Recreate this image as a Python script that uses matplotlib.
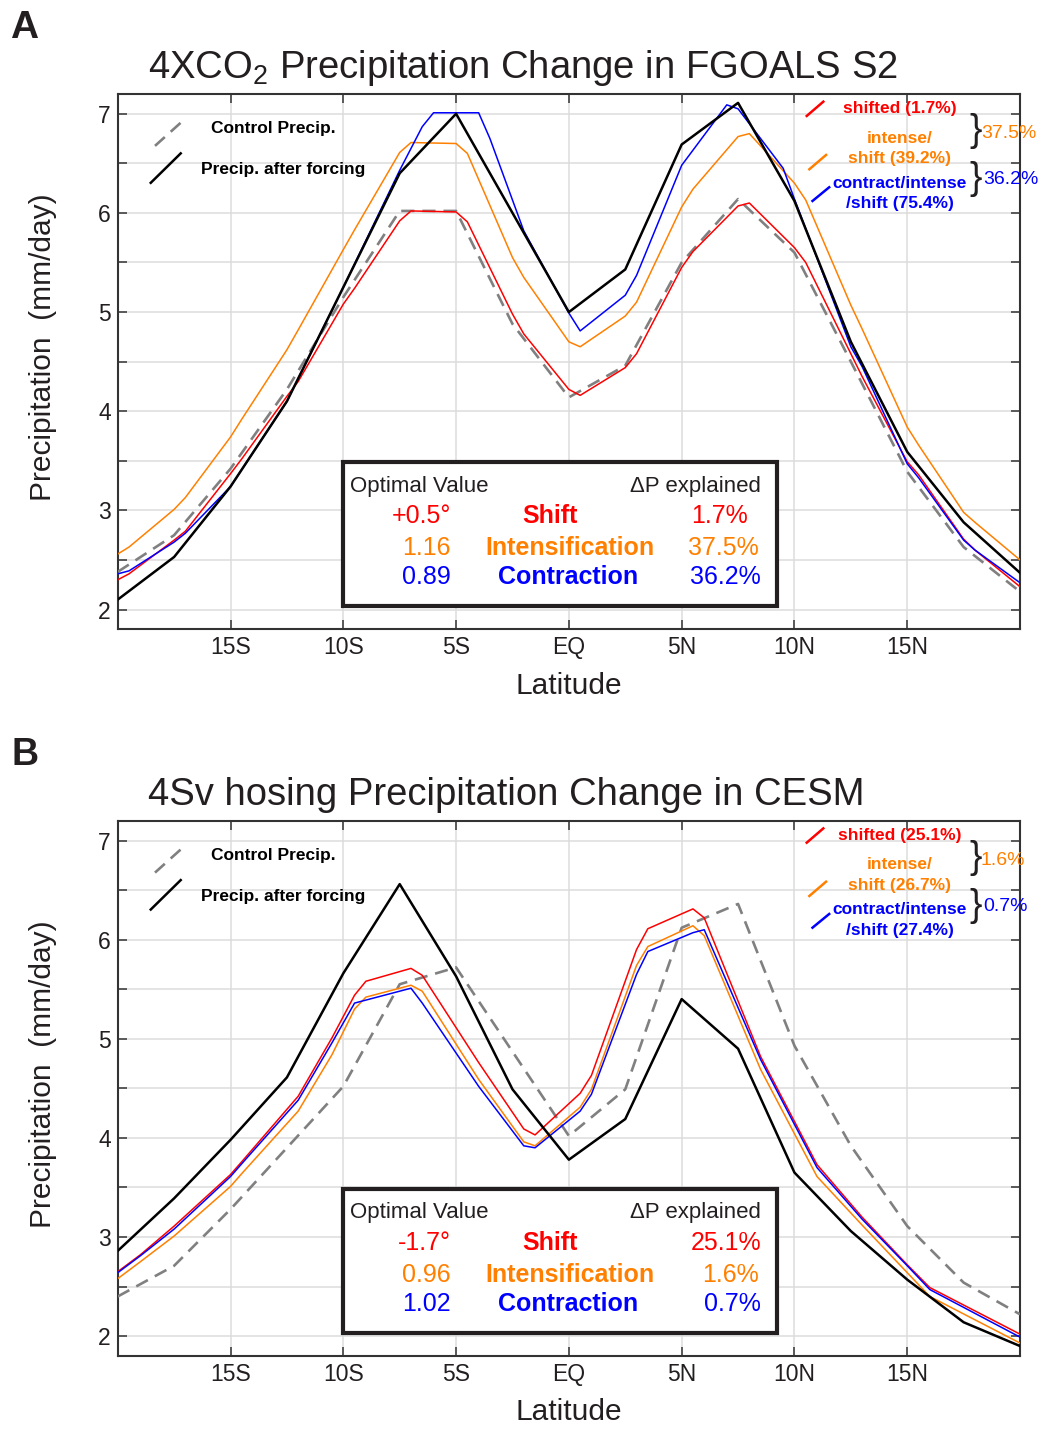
import matplotlib
matplotlib.use('Agg')
import matplotlib.pyplot as plt
from matplotlib.patches import Rectangle
from matplotlib.ticker import MultipleLocator, FixedLocator, FuncFormatter

plt.rcParams['font.family'] = ['Liberation Sans', 'DejaVu Sans']
plt.rcParams['mathtext.fontset'] = 'custom'
plt.rcParams['mathtext.rm'] = 'Liberation Sans'
plt.rcParams['mathtext.it'] = 'Liberation Sans:italic'

TXT = '#231F20'
RED = '#FF0000'
ORANGE = '#FF8000'
BLUE = '#0000FF'
GRAY = '#808080'

# === data ===
lat = [-20, -17.5, -15, -12.5, -10, -7.5, -5, -2.5, 0, 2.5, 5, 7.5, 10, 12.5, 15, 17.5, 20]

# panel A: 4xCO2, FGOALS S2
a_ctrl = [2.38, 2.75, 3.42, 4.22, 5.15, 6.02, 6.02, 4.88, 4.14, 4.46, 5.50, 6.14, 5.60, 4.50, 3.39, 2.63, 2.18]
a_forced = [2.10, 2.53, 3.24, 4.10, 5.25, 6.40, 7.00, 6.00, 5.00, 5.43, 6.69, 7.11, 6.12, 4.70, 3.59, 2.88, 2.37]
a_fine_lat = [-20, -19.5, -17.5, -17, -15, -14.5, -12.5, -12, -10, -9.5, -7.5, -7, -5, -4.5, -2.5, -2,
              0, 0.5, 2.5, 3, 5, 5.5, 7.5, 8, 10, 10.5, 12.5, 13, 15, 15.5, 17.5, 18, 20]
a_shift = [2.30, 2.36, 2.70, 2.79, 3.37, 3.52, 4.15, 4.30, 5.08, 5.24, 5.92, 6.02, 6.01, 5.91, 4.98, 4.78,
           4.22, 4.16, 4.44, 4.58, 5.45, 5.61, 6.07, 6.10, 5.65, 5.50, 4.58, 4.35, 3.49, 3.36, 2.71, 2.60, 2.23]
a_intens = [2.56, 2.63, 3.01, 3.13, 3.74, 3.92, 4.62, 4.82, 5.63, 5.83, 6.61, 6.71, 6.70, 6.60, 5.55, 5.35,
            4.70, 4.65, 4.96, 5.10, 6.06, 6.24, 6.77, 6.80, 6.30, 6.13, 5.07, 4.83, 3.84, 3.66, 2.98, 2.88, 2.50]
a_contr_lat = [-20, -19.5, -17.5, -17, -15, -12.5, -10, -7.5, -6.5, -6, -4, -3.5, -2, 0, 0.5, 2.5, 3, 5,
               7, 7.5, 9.5, 10, 12.5, 13, 15, 15.5, 17.5, 18, 20]
a_contr = [2.36, 2.39, 2.68, 2.77, 3.24, 4.10, 5.25, 6.43, 6.87, 7.01, 7.01, 6.75, 5.82, 4.99, 4.81, 5.17,
           5.37, 6.48, 7.09, 7.05, 6.45, 6.14, 4.65, 4.45, 3.47, 3.33, 2.70, 2.60, 2.27]

# panel B: 4Sv hosing, CESM
b_ctrl = [2.40, 2.71, 3.28, 3.90, 4.52, 5.55, 5.72, 4.87, 4.02, 4.49, 6.12, 6.36, 4.93, 3.92, 3.11, 2.54, 2.22]
b_forced = [2.86, 3.39, 3.98, 4.61, 5.66, 6.56, 5.63, 4.49, 3.78, 4.19, 5.40, 4.90, 3.65, 3.06, 2.57, 2.14, 1.90]
b_fine_lat = [-20, -19, -17.5, -15, -14.5, -12, -10.5, -9.5, -9, -7, -6.5, -4, -2, -1.5, 0.5, 1, 3, 3.5,
              5.5, 6, 8.5, 11, 13, 15, 16, 20]
b_shift = [2.65, 2.82, 3.11, 3.63, 3.76, 4.42, 5.01, 5.44, 5.58, 5.71, 5.64, 4.76, 4.09, 4.03, 4.45, 4.63,
           5.90, 6.11, 6.31, 6.22, 4.82, 3.73, 3.20, 2.72, 2.49, 2.02]
b_intens = [2.58, 2.75, 3.01, 3.51, 3.64, 4.27, 4.84, 5.30, 5.42, 5.54, 5.48, 4.59, 3.96, 3.92, 4.31, 4.49,
            5.74, 5.93, 6.14, 6.04, 4.69, 3.61, 3.12, 2.64, 2.40, 1.93]
b_contr = [2.64, 2.81, 3.08, 3.61, 3.74, 4.38, 4.96, 5.36, 5.39, 5.51, 5.36, 4.52, 3.92, 3.90, 4.27, 4.44,
           5.65, 5.88, 6.07, 6.10, 4.79, 3.70, 3.18, 2.71, 2.47, 1.99]

xtick_pos = [-15, -10, -5, 0, 5, 10, 15]
xtick_lab = ['15S', '10S', '5S', 'EQ', '5N', '10N', '15N']


def draw_panel(ax, title, ctrl, forced, fine_lat, shift, intens, contr_lat, contr,
               leg_pct, brace_pct, opt_vals, dp_vals, dp_x):
    ax.plot(lat, ctrl, color=GRAY, lw=1.9, dashes=(5, 3), zorder=3)
    ax.plot(fine_lat, shift, color=RED, lw=1.1, zorder=3)
    ax.plot(fine_lat, intens, color=ORANGE, lw=1.1, zorder=3)
    ax.plot(contr_lat, contr, color=BLUE, lw=1.1, zorder=3)
    ax.plot(lat, forced, color='black', lw=1.8, zorder=4)

    ax.set_xlim(-20, 20)
    ax.set_ylim(1.8, 7.2)
    ax.xaxis.set_major_locator(FixedLocator(xtick_pos))
    ax.set_xticklabels(xtick_lab)
    ax.yaxis.set_major_locator(MultipleLocator(0.5))
    ax.yaxis.set_major_formatter(FuncFormatter(lambda v, p: '%d' % round(v) if abs(v - round(v)) < 1e-6 else ''))
    ax.tick_params(direction='in', top=True, right=True, length=6.5, width=1.1,
                   labelsize=16.5, colors='#333333', labelcolor=TXT, pad=5)
    ax.grid(True, color='#DCDCDC', lw=1.1, zorder=0)
    for s in ax.spines.values():
        s.set_linewidth(1.5)
        s.set_color('#333333')
    ax.set_xlabel('Latitude', fontsize=21.5, color=TXT, labelpad=9)
    ax.set_ylabel('Precipitation  (mm/day)', fontsize=21.5, color=TXT)
    ax.yaxis.set_label_coords(-0.067, 0.527)

    tr = ax.transAxes
    ax.text(0.0336, 1.0293, title, transform=tr, fontsize=27.5, color=TXT, ha='left', va='baseline')

    # left legend
    ax.plot([0.0413, 0.0756], [0.903, 0.955], color=GRAY, lw=1.9, dashes=(5, 3), transform=tr, clip_on=False)
    ax.plot([0.0366, 0.0698], [0.834, 0.889], color='black', lw=1.8, transform=tr, clip_on=False)
    ax.text(0.103, 0.9266, 'Control Precip.', transform=tr, fontsize=12.5, fontweight='bold',
            color='black', ha='left', va='baseline')
    ax.text(0.0923, 0.8506, 'Precip. after forcing', transform=tr, fontsize=12.5, fontweight='bold',
            color='black', ha='left', va='baseline')

    # right legend
    ax.plot([0.7636, 0.7820], [0.9589, 0.9856], color=RED, lw=1.8, transform=tr, clip_on=False)
    ax.plot([0.7665, 0.7850], [0.8593, 0.8860], color=ORANGE, lw=1.8, transform=tr, clip_on=False)
    ax.plot([0.7700, 0.7885], [0.8001, 0.8257], color=BLUE, lw=1.8, transform=tr, clip_on=False)
    cx = 0.8665
    ax.text(cx, 0.964, 'shifted (%s)' % leg_pct[0], transform=tr, fontsize=12.5, fontweight='bold',
            color=RED, ha='center', va='baseline')
    ax.text(cx, 0.909, 'intense/', transform=tr, fontsize=12.5, fontweight='bold',
            color=ORANGE, ha='center', va='baseline')
    ax.text(cx, 0.8705, 'shift (%s)' % leg_pct[1], transform=tr, fontsize=12.5, fontweight='bold',
            color=ORANGE, ha='center', va='baseline')
    ax.text(cx, 0.825, 'contract/intense', transform=tr, fontsize=12.5, fontweight='bold',
            color=BLUE, ha='center', va='baseline')
    ax.text(cx, 0.7865, '/shift (%s)' % leg_pct[2], transform=tr, fontsize=12.5, fontweight='bold',
            color=BLUE, ha='center', va='baseline')
    ax.text(0.9505, 0.931, '}', transform=tr, fontsize=27, color=TXT, ha='center', va='center')
    ax.text(0.9505, 0.8408, '}', transform=tr, fontsize=27, color=TXT, ha='center', va='center')
    ax.text(0.9565, 0.9173, brace_pct[0], transform=tr, fontsize=14, color=ORANGE, ha='left', va='baseline')
    ax.text(0.9587, 0.8313, brace_pct[1], transform=tr, fontsize=14, color=BLUE, ha='left', va='baseline')

    # summary box
    ax.add_patch(Rectangle((0.2497, 0.0435), 0.481, 0.269, transform=tr, facecolor='white',
                           edgecolor=TXT, lw=3, zorder=6))
    ax.text(0.2577, 0.257, 'Optimal Value', transform=tr, fontsize=16, color=TXT,
            ha='left', va='baseline', zorder=7)
    ax.text(0.7126, 0.257, '\u0394P explained', transform=tr, fontsize=16, color=TXT,
            ha='right', va='baseline', zorder=7)
    rows_y = [0.198, 0.1388, 0.0841]
    colors = [RED, ORANGE, BLUE]
    names = ['Shift', 'Intensification', 'Contraction']
    name_x = [0.4791, 0.5007, 0.4991]
    for i in range(3):
        ax.text(0.369, rows_y[i], opt_vals[i], transform=tr, fontsize=18, color=colors[i],
                ha='right', va='baseline', zorder=7)
        ax.text(name_x[i], rows_y[i], names[i], transform=tr, fontsize=18, fontweight='bold',
                color=colors[i], ha='center', va='baseline', zorder=7)
        ax.text(dp_x[i], rows_y[i], dp_vals[i], transform=tr, fontsize=18, color=colors[i],
                ha='right', va='baseline', zorder=7)


fig = plt.figure(figsize=(10.4, 14.32), dpi=100)
ax_a = fig.add_axes([0.1132, 0.5605, 0.8676, 0.3739])
ax_b = fig.add_axes([0.1132, 0.0531, 0.8676, 0.3738])

draw_panel(ax_a, '4XCO$_2$ Precipitation Change in FGOALS S2',
           a_ctrl, a_forced, a_fine_lat, a_shift, a_intens, a_contr_lat, a_contr,
           ['1.7%', '39.2%', '75.4%'], ['37.5%', '36.2%'],
           ['+0.5\u00b0', '1.16', '0.89'], ['1.7%', '37.5%', '36.2%'], [0.6985, 0.7108, 0.7126])
draw_panel(ax_b, '4Sv hosing Precipitation Change in CESM',
           b_ctrl, b_forced, b_fine_lat, b_shift, b_intens, b_fine_lat, b_contr,
           ['25.1%', '26.7%', '27.4%'], ['1.6%', '0.7%'],
           ['-1.7\u00b0', '0.96', '1.02'], ['25.1%', '1.6%', '0.7%'], [0.7137, 0.7108, 0.7126])

fig.text(0.0096, 0.9733, 'A', fontsize=28, fontweight='bold', color=TXT, ha='left', va='baseline')
fig.text(0.0112, 0.4658, 'B', fontsize=27, fontweight='bold', color=TXT, ha='left', va='baseline')

fig.savefig('out.png', dpi=100)
